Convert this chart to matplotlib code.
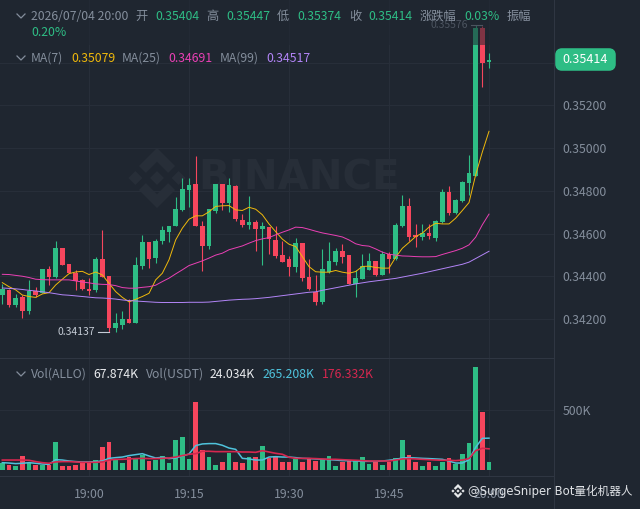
import numpy as np
import matplotlib
matplotlib.use('Agg')
import matplotlib.pyplot as plt
from matplotlib.patches import Polygon, Rectangle, FancyBboxPatch

plt.rcParams['font.family'] = ['Noto Sans CJK SC', 'DejaVu Sans']

# candles, minutes relative to 19:00, prices in 1e-5
minutes = list(range(-13, 61))
opens = [34311,34336,34266,34303,34237,34333,34320,34433,34395,34531,34459,34417,34383,34340,34336,34481,34403,34159,34172,34198,34181,34450,34559,34484,
         34563,34609,34633,34709,34806,34830,34636,34542,34706,34831,34745,34825,34664,34642,34656,34619,34631,34570,34499,34480,34444,34555,34397,34328,
         34277,34422,34469,34517,34499,34364,34388,34430,34471,34407,34502,34483,34634,34730,34592,34583,34602,34577,34653,34794,34695,34753,34836,34870,35563,35404]
closes = [34342,34264,34298,34239,34331,34312,34434,34395,34532,34454,34417,34378,34339,34333,34481,34398,34159,34180,34198,34181,34453,34562,34483,34567,
          34617,34636,34714,34808,34828,34633,34542,34714,34830,34745,34828,34667,34642,34656,34619,34633,34574,34496,34469,34444,34555,34391,34339,34277,
          34435,34472,34519,34492,34364,34391,34446,34471,34407,34503,34483,34641,34731,34586,34584,34603,34589,34658,34795,34695,34758,34842,34883,35565,35400,35414]
highs = [34364,34342,34315,34312,34383,34348,34434,34448,34564,34532,34459,34429,34387,34392,34489,34617,34403,34226,34236,34294,34492,34593,34559,34573,
         34636,34636,34772,34862,34859,34964,34659,34714,34831,34833,34859,34828,34692,34777,34664,34653,34631,34633,34563,34496,34578,34556,34480,34407,
         34527,34560,34531,34550,34499,34427,34505,34511,34472,34519,34514,34649,34781,34766,34645,34644,34645,34664,34808,34823,34761,34848,34969,35576,35570,35447]
lows = [34269,34255,34255,34203,34222,34305,34320,34359,34390,34453,34414,34336,34336,34312,34328,34398,34137,34141,34153,34180,34180,34433,34440,34461,
        34550,34561,34633,34706,34723,34633,34425,34527,34695,34711,34703,34661,34630,34622,34516,34453,34505,34485,34466,34399,34422,34380,34336,34266,
        34271,34417,34453,34461,34364,34305,34386,34430,34399,34405,34417,34477,34630,34567,34536,34570,34574,34567,34648,34688,34692,34750,34781,34868,35287,35374]
ma7 = [34370,34351,34336,34312,34305,34301,34317,34323,34359,34386,34412,34420,34423,34408,34420,34406,34367,34328,34301,34280,34292,34305,34320,34383,
       34414,34477,34570,34625,34667,34683,34683,34702,34727,34730,34731,34711,34708,34723,34714,34688,34645,34609,34574,34550,34539,34492,34445,34421,
       34419,34419,34427,34419,34414,34422,34446,34447,34441,34438,34438,34489,34531,34558,34586,34602,34630,34648,34645,34645,34672,34708,34745,34875,34982,35079]
ma25 = [34409,34408,34404,34400,34394,34386,34384,34383,34383,34383,34383,34378,34373,34369,34364,34362,34361,34356,34347,34344,34344,34348,34351,34358,
        34375,34391,34411,34430,34450,34461,34472,34485,34499,34508,34524,34533,34542,34555,34567,34575,34581,34594,34606,34617,34630,34628,34620,34611,
        34603,34597,34591,34584,34570,34552,34544,34541,34528,34513,34503,34499,34495,34494,34492,34491,34491,34492,34502,34511,34520,34531,34547,34583,34641,34691]
ma99 = [34345,34343,34341,34338,34334,34331,34327,34323,34318,34313,34311,34308,34305,34302,34299,34298,34296,34293,34289,34286,34284,34282,34280,34278,
        34277,34277,34277,34277,34278,34278,34278,34279,34282,34285,34288,34290,34292,34293,34295,34298,34301,34305,34309,34313,34317,34321,34325,34327,
        34334,34340,34346,34352,34358,34364,34369,34374,34378,34382,34386,34390,34396,34402,34408,34414,34421,34428,34435,34442,34449,34456,34466,34483,34500,34517]

# volume in K
volume = [61,39,33,120,61,44,44,39,234,36,36,39,67,56,83,195,234,83,61,106,89,125,78,83,117,61,250,272,89,570,167,111,44,70,145,64,56,106,
          111,203,97,117,64,70,92,70,97,75,92,114,36,67,75,75,111,50,67,39,70,100,247,125,70,33,67,36,70,97,47,133,225,856,481,67.874]
vol_ma_a = [61,58,53,56,61,56,50,47,86,83,75,70,67,67,70,75,97,103,108,120,128,136,117,100,106,95,100,117,133,203,217,220,220,206,183,172,97,92,
            83,83,108,111,108,108,103,97,95,92,89,86,83,78,78,75,72,72,72,75,81,89,100,103,100,97,95,92,89,75,58,58,86,189,264,265.208]
vol_ma_b = [83,83,83,83,81,70,61,56,67,70,70,67,64,64,64,67,83,89,89,92,95,97,95,95,97,100,108,120,131,136,156,156,153,153,153,153,150,150,
            147,161,150,139,131,106,97,97,97,95,92,89,89,86,83,81,78,75,75,75,75,83,92,95,92,89,86,83,81,81,78,83,95,161,181,176.332]

price_ticks = [0.342, 0.344, 0.346, 0.348, 0.350, 0.352, 0.354]
price_labels = ['0.34200', '0.34400', '0.34600', '0.34800', '0.35000', '0.35200', '']
time_ticks = [0, 15, 30, 45, 60]
time_labels = ['19:00', '19:15', '19:30', '19:45', '20:00']

BG = '#1f2630'
GRID = '#272e39'
SEP = '#2f3642'
GREEN = '#2ebd85'
RED = '#f6465d'
GREY = '#848e9c'
YELLOW = '#f0b90b'
PINK = '#eb40b5'
PURPLE = '#b385f8'
CYAN = '#4fc3dc'
CRIMSON = '#d6274f'

W, H = 640, 509
fig = plt.figure(figsize=(W / 100, H / 100), dpi=100, facecolor=BG)


def pane(left, top, right, bottom, z):
    a = fig.add_axes([left / W, 1 - bottom / H, (right - left) / W, (bottom - top) / H], zorder=z)
    a.patch.set_visible(False)
    return a


def logo(a, cx, cy, r, color):
    # binance mark, pixel coords with y going down
    d = 0.23
    for dx, dy in [(0, 0), (-0.72, 0), (0.72, 0)]:
        a.add_patch(Polygon([(cx + (dx + d) * r, cy + dy * r), (cx + dx * r, cy + (dy + d) * r),
                             (cx + (dx - d) * r, cy + dy * r), (cx + dx * r, cy + (dy - d) * r)],
                            fc=color, ec='none'))
    shape = [(0, 1), (0.6, 0.4), (0.37, 0.17), (0, 0.54), (-0.37, 0.17), (-0.6, 0.4)]
    for s in (1, -1):
        a.add_patch(Polygon([(cx + px * r, cy + s * py * r) for px, py in shape], fc=color, ec='none'))


back = pane(0, 0, W, H, 0)
back.set_xlim(0, W)
back.set_ylim(H, 0)
back.axis('off')
logo(back, 157, 178, 30, '#272e38')
back.text(198, 179, 'BINANCE', family='DejaVu Sans', fontweight='bold', fontsize=29,
          color='#272e38', va='center', ha='left')

x = np.array(minutes)
o, c = np.array(opens) / 1e5, np.array(closes) / 1e5
hi, lo = np.array(highs) / 1e5, np.array(lows) / 1e5
colors = [GREEN if b >= a else RED for a, b in zip(o, c)]
xlim = (-13.35, 69.75)

# price pane
ax = pane(0, 0, 554, 358, 1)
ax.set_xlim(xlim)
ax.set_ylim(0.34017, 0.35694)
ax.vlines(x, lo, hi, colors=colors, lw=0.8, zorder=3)
ax.bar(x, np.maximum(np.abs(c - o), 0.00002), bottom=np.minimum(o, c), width=0.68, color=colors, zorder=3)
ax.plot(x, np.array(ma7) / 1e5, color=YELLOW, lw=0.7, zorder=4)
ax.plot(x, np.array(ma25) / 1e5, color=PINK, lw=0.7, zorder=4)
ax.plot(x, np.array(ma99) / 1e5, color=PURPLE, lw=0.7, zorder=4)
ax.set_xticks(time_ticks)
ax.set_xticklabels([])
ax.yaxis.tick_right()
ax.set_yticks(price_ticks)
ax.set_yticklabels(price_labels, color=GREY, fontsize=8.8)
ax.tick_params(length=0, pad=6)
ax.grid(color=GRID, lw=0.8)
ax.set_axisbelow(True)
for s in ['top', 'left', 'bottom']:
    ax.spines[s].set_visible(False)
ax.spines['right'].set_color(SEP)

# high / low markers
i_hi = int(np.argmax(hi))
i_lo = int(np.argmin(lo))
ax.plot([x[i_hi] - 0.7, x[i_hi] + 0.95], [hi[i_hi]] * 2, color=GREY, lw=0.8, zorder=5)
ax.annotate(f'{hi[i_hi]:.5f}', (x[i_hi] - 0.7, hi[i_hi]), xytext=(-3, 0), textcoords='offset pixels',
            color=GREY, fontsize=7.5, ha='right', va='center', zorder=5)
ax.plot([x[i_lo] - 1.65, x[i_lo]], [lo[i_lo]] * 2, color='#c5ccd6', lw=0.8, zorder=5)
ax.annotate(f'{lo[i_lo]:.5f}', (x[i_lo] - 1.65, lo[i_lo]), xytext=(-3, 0), textcoords='offset pixels',
            color='#c5ccd6', fontsize=7.5, ha='right', va='center', zorder=5)

# volume pane
vx = pane(0, 358, 554, 476, 1)
vx.set_xlim(xlim)
vx.set_ylim(-50, 933)
vx.bar(x, volume, width=0.68, color=colors, zorder=3)
vx.plot(x, vol_ma_a, color=CYAN, lw=1.1, zorder=4)
vx.plot(x, vol_ma_b, color=CRIMSON, lw=1.2, zorder=5)
vx.yaxis.tick_right()
vx.set_yticks([500])
vx.set_yticklabels(['500K'], color=GREY, fontsize=8.8)
vx.set_xticks(time_ticks)
vx.set_xticklabels(time_labels, color=GREY, fontsize=8.8)
vx.tick_params(axis='y', length=0, pad=6)
vx.tick_params(axis='x', length=0, pad=9)
vx.grid(color=GRID, lw=0.8)
vx.set_axisbelow(True)
vx.spines['left'].set_visible(False)
for s in ['top', 'bottom', 'right']:
    vx.spines[s].set_color(SEP)

# overlay: legends, price tag, watermark
top = pane(0, 0, W, H, 2)
top.set_xlim(0, W)
top.set_ylim(H, 0)
top.axis('off')
top.add_line(plt.Line2D([554, 554], [476, H], color=SEP, lw=0.8))
top.add_patch(Rectangle((0, 0), 554, 45, fc=BG, ec='none', alpha=0.55))


def label(px, py, s, color=GREY, size=8.8):
    top.text(px, py, s, color=color, fontsize=size, ha='left', va='center')


def chevron(py):
    top.plot([17, 21, 25], [py - 2, py + 2, py - 2], color=GREY, lw=0.9)


chevron(16)
label(31, 16, '2026/07/04 20:00')
for px, s in [(135, '开'), (206, '高'), (277, '低'), (349, '收'), (419.5, '涨跌幅'), (506.5, '振幅')]:
    label(px, 16, s)
for px, s in [(155, '0.35404'), (226, '0.35447'), (297, '0.35374'), (368.5, '0.35414'), (464, '0.03%')]:
    label(px, 16, s, GREEN)
label(31, 32, '0.20%', GREEN)

chevron(58)
label(31, 58, 'MA(7)')
label(71, 58, '0.35079', YELLOW)
label(122, 58, 'MA(25)')
label(168, 58, '0.34691', PINK)
label(220, 58, 'MA(99)')
label(266, 58, '0.34517', PURPLE)

chevron(374)
label(31, 374, 'Vol(ALLO)')
label(93.5, 374, '67.874K', '#eaecef')
label(146, 374, 'Vol(USDT)')
label(210, 374, '24.034K', '#eaecef')
label(262.5, 374, '265.208K', CYAN)
label(322, 374, '176.332K', CRIMSON)

top.add_patch(FancyBboxPatch((558, 51), 55, 17, boxstyle='round,pad=0,rounding_size=4', fc=GREEN, ec=GREEN, lw=4))
top.text(585.5, 59.5, f'{c[-1]:.5f}', color='white', fontsize=9, ha='center', va='center')

logo(top, 458, 491, 7, '#e6e8ea')
top.text(468, 491, '@SurgeSniper Bot量化机器人', family=['DejaVu Sans', 'Noto Sans CJK SC'],
         color='#dfe2e6', fontsize=8.4, ha='left', va='center')

plt.savefig('out.png', dpi=100, facecolor=BG)
